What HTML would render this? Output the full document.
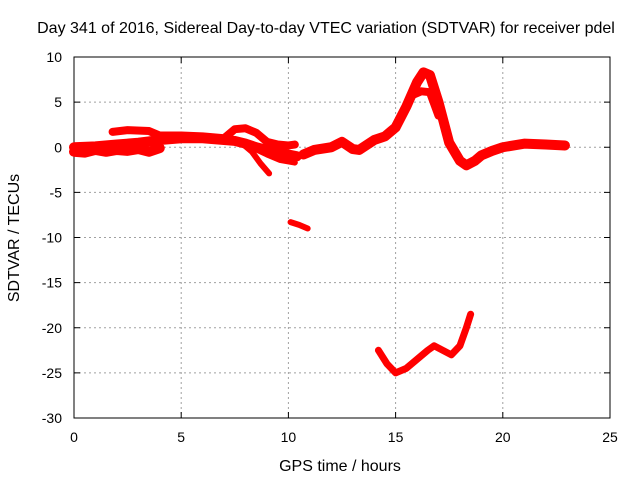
<!DOCTYPE html>
<html><head><meta charset="utf-8"><style>
body{margin:0;background:#fff}
svg text{font-family:"Liberation Sans",sans-serif;font-size:14px;fill:#000}
svg text.big{font-size:16px}
</style></head><body>
<svg id="chart" width="640" height="480" viewBox="0 0 640 480"></svg>
<script>
const xTicks=[0,5,10,15,20,25];
const yTicks=[10,5,0,-5,-10,-15,-20,-25,-30];
const seriesMainH=[0,1,2,3,4,5,6,7,7.5,8,8.5,9,9.5,10,10.4];
const seriesMainV=[0,0.1,0.3,0.5,0.8,1.0,1.0,0.8,0.7,0.4,0,-0.3,-0.5,-0.8,-1.0];
const seriesUpperH=[1.8,2.5,3.5,4,5,6,7,7.5,8,8.5,9,9.5,10,10.3];
const seriesUpperV=[1.7,1.9,1.8,1.3,1.3,1.2,1.0,2.0,2.1,1.6,0.6,0.3,0.2,0.3];
const seriesDipH=[7.8,8.3,8.7,9.1];
const seriesDipV=[0.5,-0.5,-1.8,-2.9];
const seriesDip2H=[8.3,9,9.6,10.3];
const seriesDip2V=[0,-0.8,-1.4,-1.7];
const seriesLowH=[0,0.5,1,1.5,2,2.5,3,3.5,4];
const seriesLowV=[-0.5,-0.6,-0.3,-0.5,-0.3,-0.4,-0.2,-0.5,-0.1];
const seriesPeakH=[10.7,11.2,12,12.5,13,13.3,14,14.5,15,15.5,16,16.3,16.6,17,17.5,18,18.3,18.7,19,19.5,20,21,22,22.9];
const seriesPeakV=[-0.8,-0.3,0,0.6,-0.2,-0.3,0.8,1.2,2.2,4.5,7.2,8.3,8.0,5,0.5,-1.5,-2.0,-1.5,-0.9,-0.4,0,0.4,0.3,0.2];
const seriesPeak2H=[15.8,16.2,16.6,17];
const seriesPeak2V=[5.8,6.2,6.1,3.5];
const seriesSmallH=[10.1,10.5,10.9];
const seriesSmallV=[-8.3,-8.6,-9.0];
const seriesDeepH=[14.2,14.6,15,15.5,16,16.5,16.8,17.2,17.6,18,18.3,18.5];
const seriesDeepV=[-22.5,-24,-25,-24.5,-23.5,-22.5,-22,-22.5,-23,-22,-20,-18.5];

const L=74,R=610,T=57,B=418;
const X=h=>L+h*(R-L)/25;
const Y=v=>T+(10-v)*(B-T)/40;
const svg=document.getElementById('chart');
const NS='http://www.w3.org/2000/svg';
function mk(t,a){const e=document.createElementNS(NS,t);for(const k in a)e.setAttribute(k,a[k]);svg.appendChild(e);return e;}
xTicks.forEach(t=>{
 if(t>0&&t<25){const g=mk('line',{x1:X(t),x2:X(t),y1:T,y2:B,stroke:'#a0a0a0','stroke-dasharray':'2,3'});
 
 }
 const tx=mk('text',{x:X(t),y:B+24,'text-anchor':'middle'});tx.textContent=t;
 
 
 mk('line',{x1:X(t),x2:X(t),y1:B,y2:B-6,stroke:'#000'});
 mk('line',{x1:X(t),x2:X(t),y1:T,y2:T+6,stroke:'#000'});
});
yTicks.forEach(t=>{
 if(t<10&&t>-30){const g=mk('line',{x1:L,x2:R,y1:Y(t),y2:Y(t),stroke:'#a0a0a0','stroke-dasharray':'2,3'});
 
 }
 const tx=mk('text',{x:L-12,y:Y(t)+5,'text-anchor':'end'});tx.textContent=t;
 
 
 mk('line',{x1:L,x2:L+6,y1:Y(t),y2:Y(t),stroke:'#000'});
 mk('line',{x1:R,x2:R-6,y1:Y(t),y2:Y(t),stroke:'#000'});
});
const fr=mk('rect',{x:L,y:T,width:R-L,height:B-T,fill:'none',stroke:'#000'});


function series(hs,vs,w,name){
 const p=mk('polyline',{points:hs.map((h,i)=>X(h)+','+Y(vs[i])).join(' '),fill:'none',stroke:'#f00','stroke-width':w,'stroke-linejoin':'round','stroke-linecap':'round'});
 
 
}
series(seriesMainH,seriesMainV,10,'series-main');
series(seriesLowH,seriesLowV,10,'series-low');
series(seriesUpperH,seriesUpperV,8,'series-upper');
series(seriesDipH,seriesDipV,6,'series-dip');
series(seriesDip2H,seriesDip2V,6,'series-dip2');
series(seriesPeakH,seriesPeakV,10,'series-peak');
series(seriesPeak2H,seriesPeak2V,8,'series-peak2');
series(seriesSmallH,seriesSmallV,6,'series-small');
series(seriesDeepH,seriesDeepV,7,'series-deep');
const title=mk('text',{x:326,y:33,'text-anchor':'middle','class':'big'});
title.textContent='Day 341 of 2016, Sidereal Day-to-day VTEC variation (SDTVAR) for receiver pdel';


const xl=mk('text',{x:340,y:471,'text-anchor':'middle','class':'big'});xl.textContent='GPS time / hours';


const yl=mk('text',{x:0,y:0,'text-anchor':'middle','class':'big',transform:'translate(19,238) rotate(-90)'});yl.textContent='SDTVAR / TECUs';


</script>
</body></html>
